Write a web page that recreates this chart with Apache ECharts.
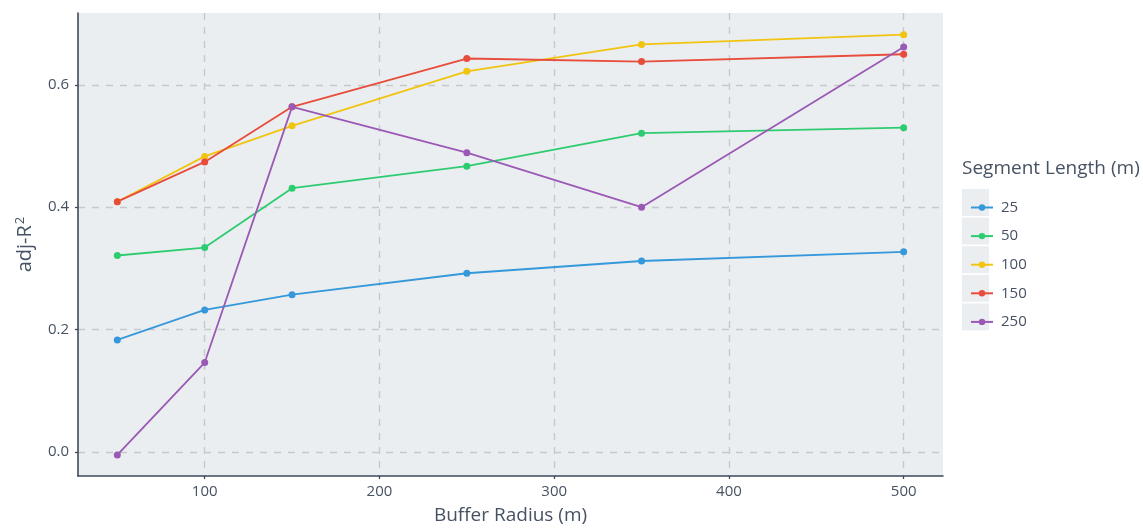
<!DOCTYPE html>
<html>
<head>
<meta charset="utf-8">
<script src="https://cdn.jsdelivr.net/npm/echarts@6/dist/echarts.min.js"></script>
<style>
html,body{margin:0;padding:0;background:#fff;}
#chart{width:1143px;height:530px;}
</style>
</head>
<body>
<div id="chart"></div>
<script>
const bufferRadius = [50, 100, 150, 250, 350, 500];
const segmentLengths = ['25', '50', '100', '150', '250'];
const seg25  = [0.183, 0.232, 0.257, 0.292, 0.312, 0.327];
const seg50  = [0.321, 0.334, 0.431, 0.467, 0.521, 0.530];
const seg100 = [0.409, 0.483, 0.533, 0.622, 0.666, 0.682];
const seg150 = [0.409, 0.474, 0.564, 0.643, 0.638, 0.650];
const seg250 = [-0.005, 0.146, 0.564, 0.489, 0.400, 0.662];
const xTicks = [100, 200, 300, 400, 500];
const yTicks = [0.0, 0.2, 0.4, 0.6];

const seriesValues = [seg25, seg50, seg100, seg150, seg250];
const colors = ['#3498DB', '#2ECC71', '#F1C40F', '#E74C3C', '#9B59B6'];
const textColor = '#465263';
const axisColor = '#3e4a5a';
const font = 'Open Sans, Liberation Sans, sans-serif';

const chart = echarts.init(document.getElementById('chart'), null, {renderer: 'canvas'});

const series = segmentLengths.map((name, i) => ({
  name: name,
  type: 'line',
  data: bufferRadius.map((x, j) => [x, seriesValues[i][j]]),
  symbol: 'circle',
  symbolSize: 7,
  showSymbol: true,
  lineStyle: {width: 1.8, color: colors[i]},
  itemStyle: {color: colors[i]},
  emphasis: {disabled: true},
  animation: false,
  z: 3
}));

// legend key backgrounds
const keyRects = segmentLengths.map((s, i) => ({
  type: 'rect',
  left: 962,
  top: 189 + i * 28.6,
  shape: {width: 27, height: 27},
  style: {fill: '#EBEEF0'},
  z: 0
}));

chart.setOption({
  backgroundColor: '#ffffff',
  animation: false,
  textStyle: {fontFamily: font},
  grid: {left: 78, right: 200, top: 13, bottom: 52, show: true, backgroundColor: '#EBEEF0', borderWidth: 0},
  xAxis: {
    type: 'value',
    min: 27.5,
    max: 522.5,
    name: 'Buffer Radius (m)',
    nameLocation: 'middle',
    nameGap: 30,
    nameTextStyle: {color: textColor, fontSize: 19, fontFamily: font},
    axisLine: {show: true, onZero: false, lineStyle: {color: axisColor, width: 1.6}},
    axisTick: {show: true, length: 3, customValues: xTicks, lineStyle: {color: axisColor, width: 1.3}},
    axisLabel: {customValues: xTicks, color: textColor, fontSize: 15, margin: 8, fontFamily: font},
    splitLine: {show: true, lineStyle: {color: '#c6c9cc', type: [7, 7], width: 1.4}}
  },
  yAxis: {
    type: 'value',
    min: -0.0394,
    max: 0.7174,
    name: 'adj-R{sup|2}',
    nameLocation: 'middle',
    nameGap: 41,
    nameRotate: 90,
    nameTextStyle: {color: textColor, fontSize: 20, fontFamily: font,
      rich: {sup: {fontSize: 13, verticalAlign: 'top', color: textColor, padding: [0,0,10,1], fontFamily: font}}},
    axisLine: {show: true, onZero: false, lineStyle: {color: axisColor, width: 1.6}},
    axisTick: {show: true, length: 3, customValues: yTicks, lineStyle: {color: axisColor, width: 1.3}},
    axisLabel: {customValues: yTicks, color: textColor, fontSize: 15, margin: 9, fontFamily: font,
      formatter: v => v.toFixed(1)},
    splitLine: {show: true, lineStyle: {color: '#c6c9cc', type: [7, 7], width: 1.4}}
  },
  legend: {
    orient: 'vertical',
    left: 965,
    top: 195,
    itemWidth: 22,
    itemHeight: 8,
    itemGap: 13.6,
    data: segmentLengths,
    textStyle: {color: textColor, fontSize: 15, lineHeight: 15, fontFamily: font, padding: [0,0,0,3]},
    selectedMode: false
  },
  graphic: [
    {type: 'text', left: 962, top: 159, style: {text: 'Segment Length (m)', fill: textColor, font: '19px ' + font}, z: 10},
    ...keyRects
  ],
  series: series
});
</script>
</body>
</html>
